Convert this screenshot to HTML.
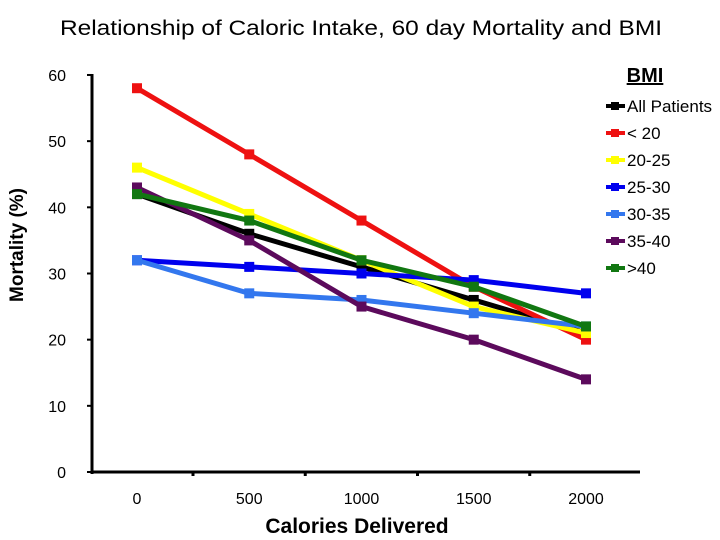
<!DOCTYPE html>
<html><head><meta charset="utf-8"><style>
body{margin:0;background:#fff;}
svg{display:block;font-family:"Liberation Sans",sans-serif;}
</style></head><body>
<svg id="chart" width="720" height="540">
<text x="60" y="35" textLength="602" lengthAdjust="spacingAndGlyphs" font-size="21">Relationship of Caloric Intake, 60 day Mortality and BMI</text>
<text transform="translate(23,245) rotate(-90)" text-anchor="middle" font-size="19" font-weight="bold">Mortality (%)</text>
<text x="357" y="533" text-anchor="middle" font-size="21" font-weight="bold">Calories Delivered</text>
<text x="645" y="82" text-anchor="middle" font-size="20" font-weight="bold" text-decoration="underline">BMI</text>
<g id="axes"></g><g id="plot"></g><g id="legend"></g>
</svg>
<script>
const categories=[0,500,1000,1500,2000];
const seriesNames=["All Patients","< 20","20-25","25-30","30-35","35-40",">40"];
const colors=["#000000","#ee1111","#ffff00","#0000ee","#3377ee","#5c0a5c","#117711"];
const allPatients=[42,36,31,26,21];
const under20=[58,48,38,28,20];
const bmi20to25=[46,39,32,25,21];
const bmi25to30=[32,31,30,29,27];
const bmi30to35=[32,27,26,24,22];
const bmi35to40=[43,35,25,20,14];
const over40=[42,38,32,28,22];
const yTicks=[0,10,20,30,40,50,60];
const series=[allPatients,under20,bmi20to25,bmi25to30,bmi30to35,bmi35to40,over40];
const NS="http://www.w3.org/2000/svg";
function X(i){return 137+i*112.25;}
function Y(v){return 472-v*6.617;}
function mk(t,a,p){const e=document.createElementNS(NS,t);for(const k in a)e.setAttribute(k,a[k]);p.appendChild(e);return e;}
const axes=document.getElementById('axes');
let l=mk('line',{x1:92,y1:74,x2:92,y2:474,stroke:'#000','stroke-width':3},axes);


l=mk('line',{x1:91,y1:472,x2:640,y2:472,stroke:'#000','stroke-width':3},axes);


yTicks.forEach(v=>{
 mk('line',{x1:87,y1:Y(v),x2:92,y2:Y(v),stroke:'#000','stroke-width':2},axes);
 const t=mk('text',{x:66,y:Y(v)+6,'text-anchor':'end','font-size':16},axes);t.textContent=v;
 
 
});
categories.forEach((c,i)=>{
 if(i<categories.length-1) mk('line',{x1:X(i)+56,y1:472,x2:X(i)+56,y2:476,stroke:'#000','stroke-width':3},axes);
 const t=mk('text',{x:X(i),y:504,'text-anchor':'middle','font-size':16},axes);t.textContent=c;
 
 
});
const plot=document.getElementById('plot');
series.forEach((s,k)=>{
 const g=mk('g',{},plot);
 
 
 mk('polyline',{points:s.map((v,i)=>X(i)+','+Y(v)).join(' '),fill:'none',stroke:colors[k],'stroke-width':5},g);
 s.forEach((v,i)=>{
  const r=mk('rect',{x:X(i)-5,y:Y(v)-5,width:10,height:10,fill:colors[k]},g);
  
  
 });
});
const lg=document.getElementById('legend');
seriesNames.forEach((n,k)=>{
 const y=106+k*27;
 const g=mk('g',{},lg);
 
 
 mk('line',{x1:606,y1:y,x2:625,y2:y,stroke:colors[k],'stroke-width':4},g);
 mk('rect',{x:611,y:y-4,width:8,height:8,fill:colors[k]},g);
 const t=mk('text',{x:627,y:y+6,'font-size':17},g);t.textContent=n;
});
</script>
</body></html>
